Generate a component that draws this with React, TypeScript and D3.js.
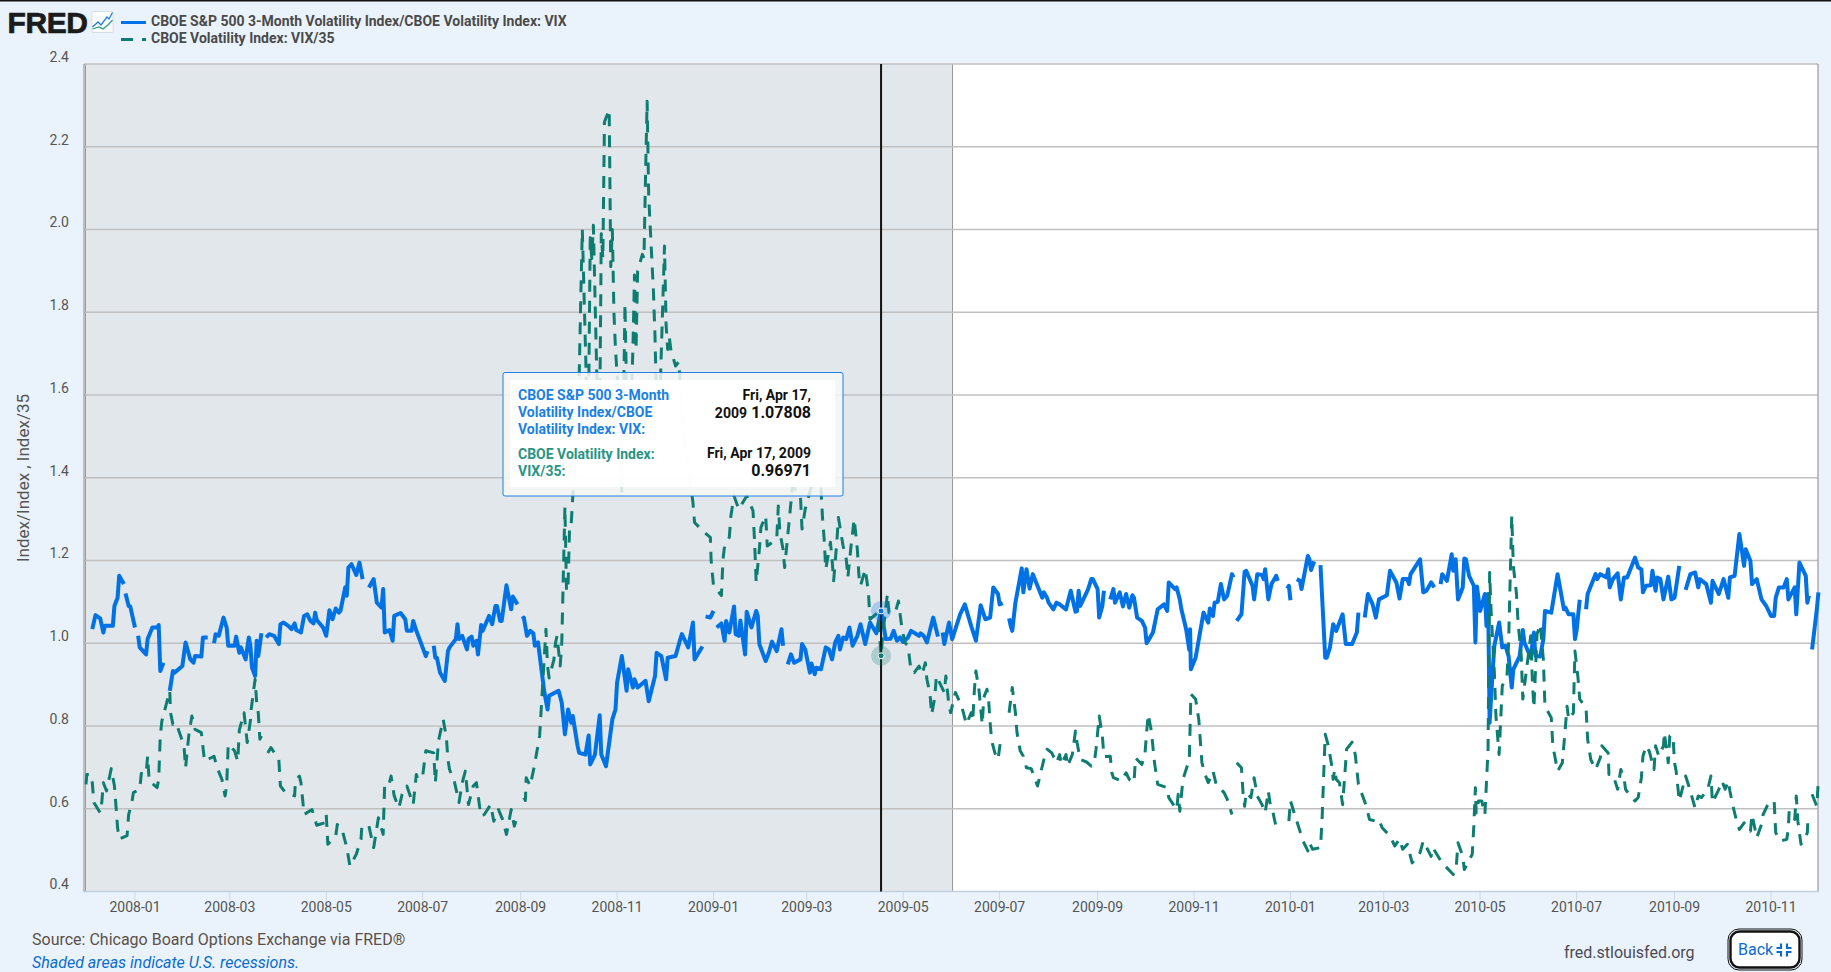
import React from "react";
import * as d3 from "d3";

// Readings are [days since 2007-12-01, index value]; null marks a gap in the published series.
const ratioReadings2008: [number, number | null][] = [
[4,1.034],[6,1.068],[9,1.06],[11,1.026],[12,1.042],[17,1.042],[18,1.09],[20,1.11],[21,1.163],[24,1.143],[24.5,null],[25,1.12],[27,1.09],[28,1.089],[31,1.038],[32,null],[33,1.018],[34,0.99],[38,0.973],[39,1.01],[42,1.038],[45,1.038],[46,1.044],[47,0.933],[49,0.953],[51,null],[53,0.885],[55,0.933],[56,0.929],[61,0.945],[63,1.002],[66,0.961],[68,0.953],[69,0.969],[73,0.968],[74,1.014],[77,1.014],[79,null],[81,1.0],[82,1.022],[84,1.018],[87,1.062],[89,1.038],[90,0.994],[94,0.994],[95,1.016],[97,0.977],[98,0.99],[101,0.961],[103,1.014],[104,0.994],[105,0.941],[107,0.921],[108,1.006],[109,0.969],[111,1.024],[112.5,null],[114,1.014],[116,1.022],[119,1.018],[122,0.998],[123,1.046],[125,1.05],[128,1.042],[130,1.034],[132,1.048],[133,1.032],[136,1.026],[138,1.066],[140,1.07],[142,1.054],[144,1.048],[145,1.074],[146,1.056],[150,1.038],[152,1.018],[154,1.08],[156,1.058],[158,1.084],[160,1.074],[161,1.078],[164,1.135],[165,1.115],[166,1.183],[168,1.191],[171,1.165],[173,1.195],[175,1.155],[177,null],[179,1.135],[182,1.155],[184,1.098],[187,1.086],[188,1.131],[189,1.026],[192,1.032],[194,1.006],[195,1.066],[199,1.073],[202,1.058],[203,1.03],[206,1.03],[207,1.054],[209,1.03],[211,1.01],[215,0.969],[216,0.981],[218,null],[220,0.994],[221,0.965],[222,0.965],[224,0.929],[227,0.909],[229,0.981],[230,0.99],[234,1.01],[235,1.046],[236,1.01],[238,1.018],[241,0.985],[242,1.01],[244,1.016],[245,0.994],[247,1.006],[248,0.973],[250,1.044],[251,1.03],[255,1.066],[257,1.046],[259,1.09],[260,1.09],[262,1.054],[263,1.054],[266,1.14],[269,1.082],[270,1.113],[273,1.094],[274.5,null],
[276,1.058],[277,1.062],[279,1.018],[281,1.03],[283,1.024],[284,0.994],[286,1.002],[290,0.881],[292,0.84],[293,0.873],[299,0.885],[301,0.856],[303,0.78],[305,0.84],[307,0.808],[308,0.824],[311,0.752],[312,0.735],[316,0.731],[318,0.777],[319,0.707],[322,0.731],[325,0.826],[326,0.731],[329,0.703],[333,0.816],[335,0.84],[336,0.905],[339,0.969],[342,0.885],[343,0.937],[346,0.893],[347,0.913],[349,0.893],[354,0.909],[356,0.86],[360,0.921],[361,0.977],[364,0.969],[367,0.913],[368,0.965],[373,0.969],[376,1.01],[377,1.022],[381,0.99],[384,1.05],[385,0.961],[390,0.992]];

const ratioReadings2009: [number, number | null][] = [
[391,null],[392,1.065],[395,1.062],[397,1.078],[398,null],[399,1.038],[402,1.048],[404,1.006],[405,1.054],[407,1.026],[410,1.089],[411,1.022],[413,1.018],[414,1.055],[417,0.973],[418,1.076],[421,1.038],[424,1.078],[425,1.066],[426,0.998],[430,0.957],[432,0.977],[434,1.004],[437,0.981],[440,1.034],[441,0.994],[442.5,null],[444,0.949],[446,0.973],[448,0.953],[452,0.961],[453,0.998],[455,0.985],[458,0.929],[459,0.951],[461,0.925],[462,0.941],[465,0.937],[468,0.99],[470,0.985],[472,0.961],[474,1.002],[476,1.018],[477,0.985],[479,1.014],[481,1.01],[483,1.038],[485,0.994],[488,1.018],[490,1.046],[493,0.998],[496,1.05],[500,1.024],[503,1.078],[506,1.01],[509,1.011],[511,1.03],[513,1.006],[515,1.014],[517,1.003],[520,1.014],[522,1.03],[527,1.018],[528,1.024],[530,1.018],[532,1.002],[536,1.062],[539,1.016],[540.5,null],[542,1.026],[543,0.998],[546,1.05],[548,1.01],[553,1.07],[556,1.094],[560,1.042],[563,1.006],[566,1.092],[569,1.058],[572,1.062],[574,1.135],[577,1.119],[578,1.094],[580,1.097],[582,null],[584,1.06],[585,1.042],[586,1.03],[588,1.098],[592,1.181],[593,1.123],[595,1.179],[597,1.132],[599,1.167],[605,1.11],[606,1.123],[608,1.11],[609,1.098],[612,1.082],[614,1.098],[616,1.094],[620,1.082],[623,1.127],[626,1.076],[627,1.078],[628,1.127],[629,1.09],[634,1.131],[636,1.155],[637,1.155],[640,1.131],[641,1.062],[643,1.09],[644,1.127],[646,null],[648,1.106],[650,1.131],[651,1.098],[654,1.123],[656,1.089],[658,1.119],[660,1.086],[662,1.116],[663,1.11],[665,1.062],[668,1.054],[670,1.038],[671,1.0],[672,1.006],[675,1.026],[678,1.082],[682,1.094],[684,1.078],[685,1.147],[689,1.131],[690,1.135],[692,1.106],[693,1.082],[696,1.034],[698,0.984],[698.5,1.034],[699,0.937],[702,0.965],[707,1.074],[710,1.05],[711,1.084],[713,1.066],[714,1.098],[716,1.1],[718,1.143],[720,1.106],[722,1.115],[725,1.167],[726,1.159],[727,null],[728,1.054],[731,1.07],[733,1.173],[734,1.175],[738,1.139],[739,1.106],[741,1.167],[744,1.165],[745,1.155],[746,1.179],[748,1.106],[750,1.143],[753,1.163],[754,1.151]];

const ratioReadings2010: [number, number | null][] = [
[757,null],[760,1.132],[761,1.139],[762,1.104],[764,null],[766,1.155],[768,1.151],[769,1.131],[773,1.211],[774,1.203],[775,1.177],[777,1.198],[779,null],[781,1.189],[784,0.965],[785,0.965],[787,0.99],[789,1.046],[791,1.03],[795,1.07],[797,0.998],[801,0.998],[804,1.026],[805,1.074],[807,null],[809,1.062],[811,1.119],[814,1.094],[816,1.062],[818,1.106],[823,1.116],[825,1.175],[829,1.147],[831,1.108],[833,1.155],[836,1.155],[837,1.143],[838,1.167],[844,1.203],[846,1.123],[848,1.127],[851,1.147],[853,1.135],[855,null],[857,1.143],[858,1.167],[861,1.151],[864,1.215],[865,1.175],[866.5,1.203],[868,1.106],[871,1.135],[872,1.205],[873,1.203],[875,1.163],[878,1.139],[879,1.002],[880,1.137],[882,1.078],[885,1.119],[886,1.042],[887,1.119],[888,0.808],[890,0.937],[891,0.994],[894,1.05],[896,0.99],[898,0.994],[900,0.969],[902,0.893],[903,0.937],[907,0.969],[909,1.032],[910,1.002],[914,0.965],[916,1.026],[917,0.969],[920,0.968],[922,1.01],[923,1.078],[927,1.074],[931,1.167],[935,1.082],[936,1.086],[938,1.07],[941,1.07],[942,1.01],[943,1.03],[945,1.105],[947,null],[949,1.082],[950,1.119],[955,1.167],[956,1.155],[958,1.167],[962,1.159],[963,1.179],[964,1.135],[966,1.155],[969,1.169],[971,1.106],[973,1.159],[975,1.159],[980,1.207],[982,1.183],[984,1.179],[985,1.123],[987,1.139],[990,1.14],[991,1.175],[993,1.127],[994,1.159],[996,1.155],[998,1.106],[1001,1.161],[1003,1.106],[1005,1.11],[1008,1.187],[1010,null],[1012,1.129],[1015,1.167],[1018,1.171],[1020,1.135],[1021,1.155],[1025,1.143],[1028,1.098],[1029,1.151],[1033,1.119],[1036,1.155],[1039,1.11],[1040,1.159],[1043,1.163],[1046,1.264],[1049,1.187],[1050,1.227],[1053,1.199],[1054,1.143],[1057,1.155],[1060,1.106],[1063,1.09],[1066,1.066],[1068,1.066],[1069,1.11],[1071,1.135],[1074,1.135],[1076,1.155],[1077,1.106],[1081,1.135],[1082,1.07],[1084,1.195],[1088,1.163],[1089,1.098],[1090,1.115],[1091,null],[1092,0.985],[1095,1.082],[1096,1.123]];

const vixReadings2008: [number, number | null][] = [
[0,0.659],[0.5,0.683],[3,0.683],[4,0.663],[5,0.615],[9,0.59],[10,0.615],[11,0.663],[13,0.643],[16,0.697],[18,0.655],[19,0.606],[20,0.554],[21,0.527],[26,0.535],[27,0.586],[29,0.615],[30,0.639],[34,0.647],[35,0.685],[38,0.683],[39,0.727],[40,0.667],[45,0.651],[46,0.671],[47,0.776],[48,0.812],[53,0.885],[53.5,0.832],[55,0.804],[57,0.808],[62,0.752],[63,0.699],[65,0.776],[67,0.824],[69,0.792],[73,0.784],[75,0.715],[77,0.719],[81,0.727],[83,0.699],[86,0.671],[88,0.631],[89,0.655],[90,0.756],[94,0.74],[96,0.715],[97,0.79],[100,0.832],[102,0.76],[104,0.812],[104.5,0.84],[107,0.913],[108,0.856],[109,0.832],[110,0.768],[111,0.776],[113,null],[115,0.735],[117,0.748],[122,0.719],[123,0.655],[126,0.64],[132,0.631],[132.5,0.667],[135,0.679],[136,0.663],[138,0.586],[143,0.598],[146,0.56],[151,0.566],[152,0.586],[153,0.514],[158,0.534],[159,0.562],[162,0.55],[165,0.506],[167,0.461],[171,0.49],[174,0.526],[174.5,0.558],[178,null],[179,0.558],[182,0.506],[185,0.578],[188,0.538],[189,0.663],[192,0.663],[193,0.679],[195,0.631],[198,0.602],[200,0.635],[203,0.655],[207,0.61],[209,0.683],[210,0.671],[213,0.679],[215,0.74],[220,0.735],[221,0.663],[222,0.711],[223,0.764],[226,0.816],[228,0.772],[229,0.719],[230,0.695],[233,0.667],[236,0.615],[238,0.663],[240,0.691],[242,0.61],[245,0.655],[247,0.663],[249,0.606],[250,0.582],[252,0.586],[256,0.61],[258,0.57],[261,0.598],[264,0.57],[266,0.538],[269,0.598],[271,0.558],[272,0.57],[275,null],[277,0.627],[278,0.62],[278.5,0.675],[281,0.655],[283,0.691],[284,0.711],[287,0.776],[289,0.905],[291,1.034],[292,0.946],[293,0.916],[296,0.96],[297,1.0],[298,1.018],[300,0.945],[301,1.0],[303,1.33],[304,1.125],[305,1.14],[306,1.29],[307,1.29],[310,1.49],[311,1.53],[312,1.64],[313,1.83],[314,2.0],[317,1.57],[318,1.575],[319,1.98],[320,1.93],[321,2.01],[324,1.51],[325,1.53],[326,1.99],[327,1.93],[328,2.26],[331,2.29],[332,1.91],[333,2.0],[334,1.8],[335,1.71],[338,1.53],[339,1.36],[340,1.56],[341,1.82],[342,1.6],[345,1.59],[346,1.71],[347,1.89],[348,1.71],[349,1.9],[352,1.94],[353,1.93],[354,2.13],[355,2.31],[356,2.08],[359,1.85],[360,1.74],[361,1.57],[363,1.58],[366,1.96],[367,1.77],[368,1.71],[369,1.74],[370,1.71],[373,1.67],[375,1.68],[378,1.52],[381,1.43],[384,1.34],[385,1.292],[390,1.272]];

const vixReadings2009: [number, number | null][] = [
[395,1.256],[395.5,1.2],[397,1.139],[402,1.115],[403,1.203],[404,1.235],[407,1.256],[408,1.308],[410,1.356],[413,1.324],[418,1.356],[422,1.32],[423,1.244],[424,1.147],[426,1.227],[427,1.28],[430,1.308],[431,1.235],[437,1.252],[438,1.332],[439,1.268],[441,1.227],[442,1.183],[447,1.38],[452,1.356],[453,1.276],[455,1.324],[459,1.38],[465,1.373],[466,1.3],[467,1.252],[468,1.179],[471,1.244],[472,1.203],[473,1.151],[475,1.244],[476,1.304],[479,1.235],[481,1.203],[482,1.159],[484,1.235],[486,1.3],[488,1.227],[489,1.163],[490,1.139],[493,1.179],[495,1.123],[496,1.058],[501,1.074],[503,0.96971],[504,1.018],[507,1.119],[508,1.074],[512,1.074],[514,1.102],[516,1.042],[518,1.002],[520,0.994],[522,0.933],[524,0.929],[527,0.945],[529,0.925],[531,0.953],[532,0.913],[534,0.877],[535,0.828],[537,0.869],[538,0.921],[543,0.881],[544,0.921],[546,0.848],[547,0.832],[550,0.881],[554,0.848],[557,0.804],[560,0.832],[561,0.812],[562,0.885],[563,0.933],[565,0.885],[567,0.804],[568,0.869],[570,0.889],[571,0.865],[572,0.808],[573,0.764],[575,0.735],[577,0.719],[579,0.776],[581,null],[584,0.832],[586,0.893],[588,0.832],[589,0.784],[591,0.74],[593,0.727],[595,0.699],[598,0.697],[602,0.655],[606,0.719],[608,0.744],[611,0.735],[614,0.711],[616,0.731],[617,0.707],[620,0.731],[621,0.703],[624,0.731],[626,0.788],[627,0.76],[629,0.719],[633,0.713],[636,0.703],[638,0.715],[639,0.744],[641,0.824],[643,0.776],[644,0.726],[648,0.727],[649,0.687],[650,0.675],[655,0.667],[658,0.687],[660,0.671],[663,0.663],[664,0.723],[668,0.707],[670,0.735],[671,0.784],[672,0.828],[674,0.788],[676,0.711],[678,0.659],[684,0.651],[685,0.627],[690,0.598],[691,0.635],[692,0.594],[694,0.671],[696,0.695],[698,0.719],[698.5,0.796],[699,0.877],[702,0.865],[704,0.816],[706,0.711],[708,0.683],[710,0.663],[713,0.691],[715,0.659],[717,0.651],[720,0.639],[722,0.623],[725,0.586],[727,null],[728,0.711],[731,0.699],[732,0.639],[733,0.606],[734,0.639],[737,0.627],[739,0.675],[741,0.631],[744,0.61],[746,0.59],[748,0.643],[749,0.615],[751,0.59],[753,0.554],[755,0.562]];

const vixReadings2010: [number, number | null][] = [
[758,null],[761,0.57],[762,0.619],[766,0.57],[768,0.546],[770,0.522],[773,0.498],[774,0.518],[776,0.502],[781,0.506],[782,0.574],[783,0.679],[784,0.78],[786,0.752],[788,0.707],[789,0.671],[790,0.695],[791,0.671],[793,0.663],[795,0.61],[797,0.715],[797.5,0.744],[801,0.761],[803,0.731],[805,0.659],[810,0.606],[812,0.574],[816,0.57],[818,0.574],[820,0.554],[825,0.534],[828,0.51],[831,0.527],[833,0.502],[836,0.514],[839,0.469],[844,0.494],[846,0.522],[851,0.485],[852,0.506],[858,0.469],[865,0.441],[867,0.465],[868,0.518],[871,0.485],[872,0.453],[877,0.49],[878,0.558],[879,0.651],[879.5,0.59],[881,0.619],[883,0.619],[885,0.586],[886,0.663],[887,0.744],[888,1.171],[889,1.074],[891,0.929],[892,0.824],[894,0.731],[896,0.897],[899,0.921],[900,1.0],[902,1.308],[903,1.187],[905,1.119],[906,1.05],[908,0.969],[909,0.865],[914,1.018],[915,0.913],[916,0.844],[918,1.022],[920,1.046],[922,0.961],[923,0.848],[927,0.82],[928,0.752],[931,0.691],[934,0.711],[936,0.8],[937,0.848],[938,0.816],[941,0.832],[941.5,0.913],[942,0.981],[944,0.913],[945,0.865],[949,0.844],[950,0.768],[952,0.719],[955,0.695],[958,0.723],[959,0.752],[963,0.735],[963.5,0.683],[966,0.683],[969,0.647],[971,0.695],[973,0.675],[974,0.647],[977,0.631],[980,0.619],[982,0.627],[984,0.675],[985,0.727],[987,0.752],[989,0.739],[992,0.695],[993,0.752],[995,0.727],[998,0.752],[998.5,0.784],[1001,0.711],[1002,0.776],[1004,0.776],[1005,0.711],[1006,0.691],[1008,0.619],[1012,0.679],[1014,0.655],[1018,0.602],[1020,0.631],[1022,0.627],[1026,0.647],[1028,0.679],[1029,0.615],[1033,0.647],[1035,0.667],[1037,0.647],[1039,0.667],[1040,0.643],[1042,0.606],[1044,0.574],[1046,0.55],[1049,0.566],[1053,0.546],[1054,0.586],[1057,0.53],[1060,0.562],[1061,0.586],[1064,0.61],[1068,0.619],[1069,0.542],[1072,0.522],[1076,0.526],[1077,0.554],[1077.5,0.594],[1081,0.574],[1082,0.631],[1083,0.57],[1085,0.514],[1089,0.542],[1089.5,0.586],[1091,null],[1092,0.635],[1095,0.606],[1096,0.671]];

const yTicks = [0.4, 0.6, 0.8, 1.0, 1.2, 1.4, 1.6, 1.8, 2.0, 2.2, 2.4];
const xTickLabels = ["2008-01","2008-03","2008-05","2008-07","2008-09","2008-11","2009-01","2009-03","2009-05","2009-07","2009-09","2009-11","2010-01","2010-03","2010-05","2010-07","2010-09","2010-11"];
const recession = ["2007-12-01", "2009-06-01"];
const hoverDate = "2009-04-17";
const hoverRatio = 1.07808;
const hoverVix = 0.96971;

const BLUE = "#0072e6";
const GREEN = "#0d7d72";
const FONT = "Roboto, sans-serif";
const parseDay = d3.utcParse("%Y-%m-%d");
const parseMonth = d3.utcParse("%Y-%m");
const fromOffset = (day: number) => new Date(Date.UTC(2007, 11, 1) + day * 864e5);

export default function App() {
  const x = d3.scaleUtc().domain([fromOffset(-1), fromOffset(1096)]).range([84.4, 1818.4]);
  const y = d3.scaleLinear().domain([0.4, 2.4]).range([891.5, 64]);
  const line = d3.line<[number, number | null]>()
    .defined((d) => d[1] !== null)
    .x((d) => x(fromOffset(d[0])))
    .y((d) => y(d[1] as number));
  const ratio = [...ratioReadings2008, ...ratioReadings2009, ...ratioReadings2010];
  const vix = [...vixReadings2008, ...vixReadings2009, ...vixReadings2010];
  const bandX0 = x(parseDay(recession[0])!);
  const bandX1 = x(parseDay(recession[1])!);
  const hx = x(parseDay(hoverDate)!);
  return (
    <svg width={1831} height={972} viewBox="0 0 1831 972" style={{ position: "fixed", left: 0, top: 0, fontFamily: FONT }}>
      <rect width={1831} height={972} fill="#eaf3fb" />
      <rect width={1831} height={1.5} fill="#111" />
      {/* header */}
      <text x={7.5} y={33} fontFamily="Liberation Sans, Roboto" fontWeight={700} fontSize={30} letterSpacing={-0.4} fill="#1b1b1d" stroke="#1b1b1d" strokeWidth={0.7}>FRED</text>
      <rect x={92} y={11.5} width={21} height={21} rx={1} fill="#fff" stroke="#cfd6dc" strokeWidth={0.8} />
      <polyline points="92.5,27 98,22 101,25 107,17 109,19 112.5,12.5" fill="none" stroke="#1f7de0" strokeWidth={1.3} />
      <polyline points="92.5,29 99,27 103,29 108,25 112.5,20" fill="none" stroke="#2a9d8f" strokeWidth={1.3} />
      <line x1={121} x2={146} y1={22.5} y2={22.5} stroke={BLUE} strokeWidth={3} />
      <line x1={121} x2={146} y1={39.5} y2={39.5} stroke={GREEN} strokeWidth={3} strokeDasharray="12,9" />
      <text x={151} y={25.5} fontSize={14} fontWeight={700} fill="#4a4a4a">CBOE S&amp;P 500 3-Month Volatility Index/CBOE Volatility Index: VIX</text>
      <text x={151} y={42.5} fontSize={14} fontWeight={700} fill="#4a4a4a">CBOE Volatility Index: VIX/35</text>

      {/* plot area */}
      <rect x={84} y={64} width={1734} height={827.5} fill="#fff" />
      <rect x={bandX0} y={64} width={bandX1 - bandX0} height={827.5} fill="#e2e7eb" />
      <line x1={bandX1} x2={bandX1} y1={64} y2={891.5} stroke="#999" strokeWidth={1} shapeRendering="crispEdges" />
      <line x1={bandX0} x2={bandX0} y1={64} y2={891.5} stroke="#999" strokeWidth={1} shapeRendering="crispEdges" />
      {yTicks.map((t) => (
        <g key={t}>
          {t > 0.4 && <line x1={84} x2={1818} y1={y(t)} y2={y(t)} stroke="#c0c0c0" strokeWidth={1.6} />}
          <text x={69} y={y(t) - 7} dy="0.35em" textAnchor="end" fontSize={14} fill="#555">{t.toFixed(1)}</text>
        </g>
      ))}
      <line x1={84} x2={84} y1={64} y2={892} stroke="#999" strokeWidth={1.2} />
      <line x1={1818} x2={1818} y1={64} y2={892} stroke="#999" strokeWidth={1.2} />
      <line x1={84} x2={1819} y1={891.5} y2={891.5} stroke="#c4cfdd" strokeWidth={1.6} />
      {xTickLabels.map((m) => {
        const tx = x(parseMonth(m)!);
        return (
          <g key={m}>
            <line x1={tx} x2={tx} y1={892} y2={900} stroke="#ccd6eb" strokeWidth={1} />
            <text x={tx} y={907} dy="0.35em" textAnchor="middle" fontSize={14} fill="#555">{m}</text>
          </g>
        );
      })}
      <text transform="translate(23,478) rotate(-90)" textAnchor="middle" dy="0.35em" fontSize={17} fill="#555">Index/Index , Index/35</text>

      {/* series */}
      <path d={line(ratio) ?? ""} fill="none" stroke={BLUE} strokeWidth={4} strokeLinejoin="round" />
      <path d={line(vix) ?? ""} fill="none" stroke={GREEN} strokeWidth={3} strokeDasharray="12,9" strokeLinejoin="round" />

      {/* crosshair and markers */}
      <line x1={hx} x2={hx} y1={64} y2={891.5} stroke="#111" strokeWidth={2} />
      <circle cx={hx} cy={y(hoverRatio)} r={10} fill={BLUE} opacity={0.25} />
      <circle cx={hx} cy={y(hoverRatio)} r={3} fill={BLUE} stroke="#fff" strokeWidth={1} />
      <circle cx={hx} cy={y(hoverVix)} r={10} fill={GREEN} opacity={0.25} />
      <circle cx={hx} cy={y(hoverVix)} r={3} fill={GREEN} stroke="#fff" strokeWidth={1} />

      {/* tooltip */}
      <rect x={503} y={372.5} width={340} height={123.5} rx={2} fill="#f7f7f7" fillOpacity={0.85} stroke="#1f80e6" strokeWidth={1} />
      <rect x={510} y={380} width={325} height={107} fill="#fff" fillOpacity={0.92} />
      <g fontSize={14} fontWeight={700} fill="#1a7fe6">
        <text x={518} y={400}>CBOE S&amp;P 500 3-Month</text>
        <text x={518} y={417}>Volatility Index/CBOE</text>
        <text x={518} y={434}>Volatility Index: VIX:</text>
      </g>
      <g fontSize={14} fontWeight={700} fill="#2a9484">
        <text x={518} y={459}>CBOE Volatility Index:</text>
        <text x={518} y={476}>VIX/35:</text>
      </g>
      <g fontWeight={700} fill="#111" textAnchor="end">
        <text x={811} y={400} fontSize={14}>Fri, Apr 17,</text>
        <text x={747} y={418} fontSize={14}>2009</text>
        <text x={811} y={418} fontSize={16}>1.07808</text>
        <text x={811} y={458} fontSize={14}>Fri, Apr 17, 2009</text>
        <text x={811} y={476} fontSize={16}>0.96971</text>
      </g>

      {/* footer */}
      <text x={32} y={945} fontSize={16} fill="#5a5048">Source: Chicago Board Options Exchange via FRED®</text>
      <text x={32} y={968} fontSize={16} fontStyle="italic" fill="#0b6bd0">Shaded areas indicate U.S. recessions.</text>
      <text x={1564} y={958} fontSize={16} fill="#4a4a55">fred.stlouisfed.org</text>
      <rect x={1728} y={929} width={74} height={41} rx={11} fill="none" stroke="#111" strokeWidth={1} />
      <rect x={1730.5} y={931.5} width={69} height={36} rx={9} fill="#fff" stroke="#111" strokeWidth={2.4} />
      <text x={1738} y={955} fontSize={16} fill="#0b6bd0">Back</text>
      <path d="M1781,943.5v4.5h-4.5 M1787,943.5v4.5h4.5 M1781,956.5v-4.5h-4.5 M1787,956.5v-4.5h4.5" fill="none" stroke="#0b6bd0" strokeWidth={2.2} />
    </svg>
  );
}
